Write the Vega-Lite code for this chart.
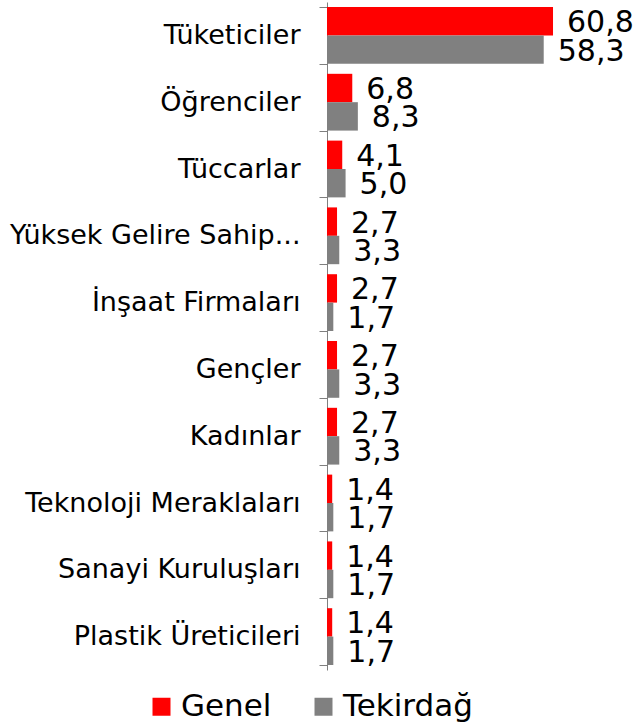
{
  "$schema": "https://vega.github.io/schema/vega-lite/v6.json",
  "width": 313,
  "height": 668,
  "autosize": {"type": "none"},
  "padding": {"left": 327, "top": 2, "right": 0, "bottom": 58},
  "config": {
    "view": {"stroke": null},
    "font": "DejaVu Sans",
    "locale": {"number": {"decimal": ",", "thousands": ".", "grouping": [3], "currency": ["", ""]}}
  },
  "data": {
    "values": [
      {"kategori": "Tüketiciler", "seri": "Genel", "deger": 60.8},
      {"kategori": "Tüketiciler", "seri": "Tekirdağ", "deger": 58.3},
      {"kategori": "Öğrenciler", "seri": "Genel", "deger": 6.8},
      {"kategori": "Öğrenciler", "seri": "Tekirdağ", "deger": 8.3},
      {"kategori": "Tüccarlar", "seri": "Genel", "deger": 4.1},
      {"kategori": "Tüccarlar", "seri": "Tekirdağ", "deger": 5.0},
      {"kategori": "Yüksek Gelire Sahip...", "seri": "Genel", "deger": 2.7},
      {"kategori": "Yüksek Gelire Sahip...", "seri": "Tekirdağ", "deger": 3.3},
      {"kategori": "İnşaat Firmaları", "seri": "Genel", "deger": 2.7},
      {"kategori": "İnşaat Firmaları", "seri": "Tekirdağ", "deger": 1.7},
      {"kategori": "Gençler", "seri": "Genel", "deger": 2.7},
      {"kategori": "Gençler", "seri": "Tekirdağ", "deger": 3.3},
      {"kategori": "Kadınlar", "seri": "Genel", "deger": 2.7},
      {"kategori": "Kadınlar", "seri": "Tekirdağ", "deger": 3.3},
      {"kategori": "Teknoloji Meraklaları", "seri": "Genel", "deger": 1.4},
      {"kategori": "Teknoloji Meraklaları", "seri": "Tekirdağ", "deger": 1.7},
      {"kategori": "Sanayi Kuruluşları", "seri": "Genel", "deger": 1.4},
      {"kategori": "Sanayi Kuruluşları", "seri": "Tekirdağ", "deger": 1.7},
      {"kategori": "Plastik Üreticileri", "seri": "Genel", "deger": 1.4},
      {"kategori": "Plastik Üreticileri", "seri": "Tekirdağ", "deger": 1.7}
    ]
  },
  "encoding": {
    "y": {
      "field": "kategori",
      "type": "nominal",
      "sort": null,
      "scale": {"paddingInner": 0.15, "paddingOuter": 0.075},
      "axis": {
        "title": null,
        "domainColor": "#7f7f7f",
        "tickColor": "#7f7f7f",
        "tickSize": 8,
        "tickBand": "extent",
        "labelFontSize": 27,
        "labelColor": "#000000",
        "labelPadding": 19,
        "labelLimit": 400
      }
    },
    "yOffset": {"field": "seri", "type": "nominal", "sort": ["Genel", "Tekirdağ"], "scale": {"paddingInner": 0, "paddingOuter": 0}},
    "x": {
      "field": "deger",
      "type": "quantitative",
      "scale": {"domain": [0, 84.2], "nice": false},
      "axis": null
    }
  },
  "layer": [
    {
      "mark": {"type": "bar"},
      "encoding": {
        "color": {
          "field": "seri",
          "type": "nominal",
          "sort": ["Genel", "Tekirdağ"],
          "scale": {"domain": ["Genel", "Tekirdağ"], "range": ["#ff0000", "#808080"]},
          "legend": {
            "title": null,
            "orient": "none",
            "direction": "horizontal",
            "legendX": -181,
            "legendY": 689,
            "symbolType": "square",
            "symbolSize": 324,
            "symbolStrokeWidth": 0,
            "labelFontSize": 31,
            "labelColor": "#000000",
            "labelOffset": 4,
            "columnPadding": 36
          }
        }
      }
    },
    {
      "mark": {"type": "text", "align": "left", "baseline": "middle", "dx": 14, "dy": 2, "fontSize": 30, "color": "#000000"},
      "encoding": {
        "text": {"field": "deger", "type": "quantitative", "format": ".1f"}
      }
    }
  ]
}
